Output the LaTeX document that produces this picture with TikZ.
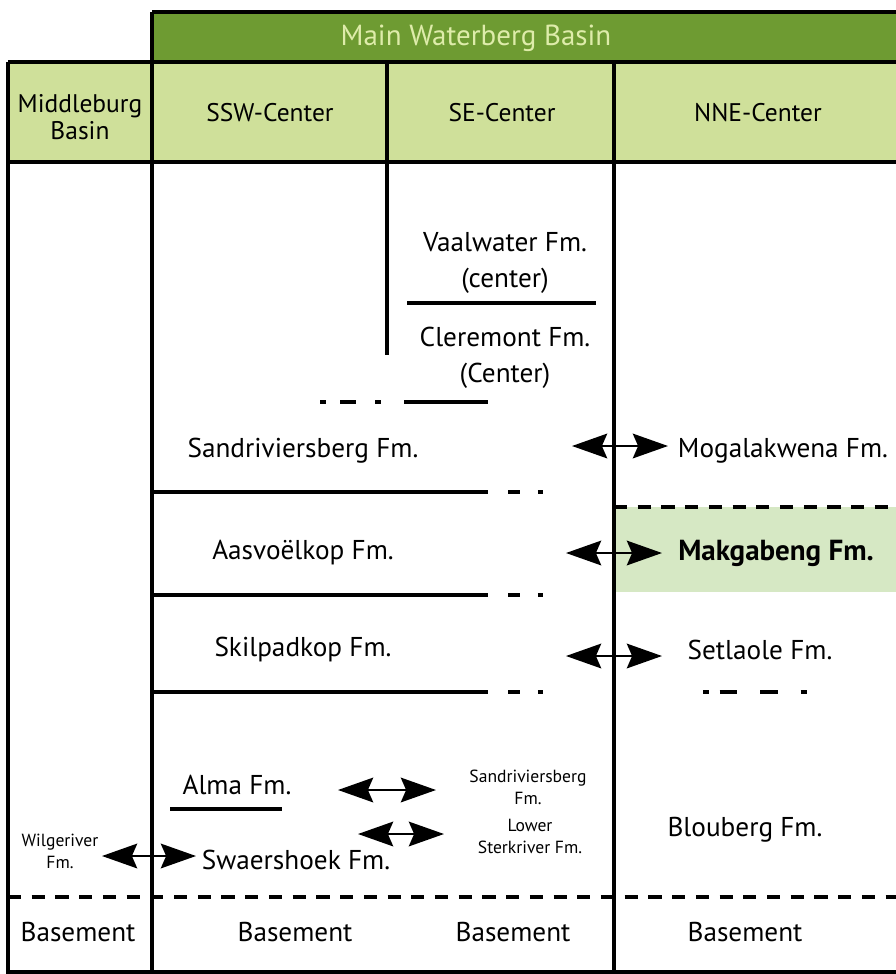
\documentclass[tikz,border=0pt]{standalone}
\usepackage{fontspec}
\setmainfont{PT Sans}
\usetikzlibrary{arrows.meta}
\definecolor{basingreen}{RGB}{110,155,50}
\definecolor{headgreen}{RGB}{207,224,154}
\definecolor{unitgreen}{RGB}{214,232,196}
\definecolor{titlegreen}{RGB}{222,236,170}
\tikzstyle{frame}=[line width=2.2pt]
\tikzstyle{boundary}=[line width=2pt]
\tikzstyle{correlation}=[line width=1.5pt, {Stealth[length=20pt,width=14pt,inset=3pt]}-{Stealth[length=20pt,width=14pt,inset=3pt]}]
\tikzstyle{head}=[font=\fontsize{14.5}{15.5}\selectfont, align=center]
\tikzstyle{unit}=[font=\fontsize{15.5}{20.5}\selectfont, align=center]
\tikzstyle{small unit}=[font=\fontsize{10}{12.5}\selectfont, align=center, inner sep=1pt]
\begin{document}
\begin{tikzpicture}[x=0.02cm, y=-0.02cm]
    \useasboundingbox (0, 0) rectangle (896, 974);

    % header bands
    \fill[basingreen] (152, 12) rectangle (896, 62);
    \fill[headgreen] (8, 62) rectangle (896, 162);
    \fill[unitgreen] (614, 507) rectangle (896, 592);
    \node[head, text=titlegreen, font=\fontsize{16.5}{18}\selectfont] (main_basin) at (476, 38) {Main Waterberg Basin};
    \node[head] (middleburg) at (80, 117) {Middleburg\\Basin};
    \node[head] (ssw) at (270, 113) {SSW-Center};
    \node[head] (se) at (502, 113) {SE-Center};
    \node[head] (nne) at (758, 113) {NNE-Center};

    % frame
    \draw[frame] (152, 12) -- (896, 12);
    \draw[frame] (8, 62) -- (896, 62);
    \draw[frame] (8, 162) -- (896, 162);
    \draw[frame] (8, 62) -- (8, 972) -- (896, 972);
    \draw[frame] (152, 12) -- (152, 972);
    \draw[frame] (387, 62) -- (387, 355);
    \draw[frame] (614, 62) -- (614, 972);

    % formations
    \node[unit] (vaalwater) at (505, 263) {Vaalwater Fm.\\(center)};
    \node[unit] (cleremont) at (505, 358) {Cleremont Fm.\\(Center)};
    \node[unit] (sandrivier) at (303, 451) {Sandriviersberg Fm.};
    \node[unit] (mogalakwena) at (783, 451) {Mogalakwena Fm.};
    \node[unit] (aasvoelkop) at (303, 553) {Aasvo\"elkop Fm.};
    \node[unit, font=\fontsize{16.5}{20}\bfseries] (makgabeng) at (776, 553) {Makgabeng Fm.};
    \node[unit] (skilpadkop) at (303, 650) {Skilpadkop Fm.};
    \node[unit] (setlaole) at (760, 650) {Setlaole Fm.};
    \node[unit] (alma) at (237, 785) {Alma Fm.};
    \node[small unit] (sandrivier_low) at (528, 787) {Sandriviersberg\\Fm.};
    \node[small unit] (sterkriver) at (530, 836) {Lower\\Sterkriver Fm.};
    \node[small unit] (wilgeriver) at (60, 851) {Wilgeriver\\Fm.};
    \node[unit] (swaershoek) at (296, 860) {Swaershoek Fm.};
    \node[unit] (blouberg) at (745, 830) {Blouberg Fm.};
    \node[unit] (base_mb) at (78, 932) {Basement};
    \node[unit] (base_ssw) at (295, 932) {Basement};
    \node[unit] (base_se) at (513, 932) {Basement};
    \node[unit] (base_nne) at (745, 932) {Basement};

    % boundaries
    \draw[boundary] (407, 303) -- (596, 303);
    \draw[boundary] (404, 402) -- (488, 402);
    \draw[boundary, dash pattern=on 3.5pt off 8pt on 9pt off 11pt on 3.5pt off 20pt] (320, 402) -- (404, 402);
    \foreach \y in {492, 595, 692} {
      \draw[boundary] (152, \y) -- (488, \y);
      \draw[boundary, dash pattern=on 7pt off 10pt on 3pt off 20pt] (508, \y) -- (545, \y);
    }
    \draw[boundary, dash pattern=on 3.5pt off 6pt on 10pt off 13pt on 10pt off 13pt on 3.5pt off 30pt] (703, 692) -- (815, 692);
    \draw[boundary, dash pattern=on 7.5pt off 6pt] (614, 507) -- (896, 507);
    \draw[boundary, dash pattern=on 7.5pt off 6pt] (8, 897) -- (896, 897);
    \draw[boundary] (170, 809) -- (282, 809);

    % correlations
    \coordinate (mog_w) at (572, 446);
    \coordinate (mog_e) at (668, 446);
    \coordinate (mak_w) at (566, 553);
    \coordinate (mak_e) at (662, 553);
    \coordinate (set_w) at (566, 656);
    \coordinate (set_e) at (662, 656);
    \coordinate (alma_e) at (338, 790);
    \coordinate (sand_w) at (436, 790);
    \coordinate (swa_e) at (358, 834);
    \coordinate (ster_w) at (444, 834);
    \coordinate (wil_e) at (102, 856);
    \coordinate (swa_w) at (196, 856);
    \draw[correlation] (mog_w) -- (mog_e);
    \draw[correlation] (mak_w) -- (mak_e);
    \draw[correlation] (set_w) -- (set_e);
    \draw[correlation] (alma_e) -- (sand_w);
    \draw[correlation] (swa_e) -- (ster_w);
    \draw[correlation] (wil_e) -- (swa_w);
\end{tikzpicture}
\end{document}
